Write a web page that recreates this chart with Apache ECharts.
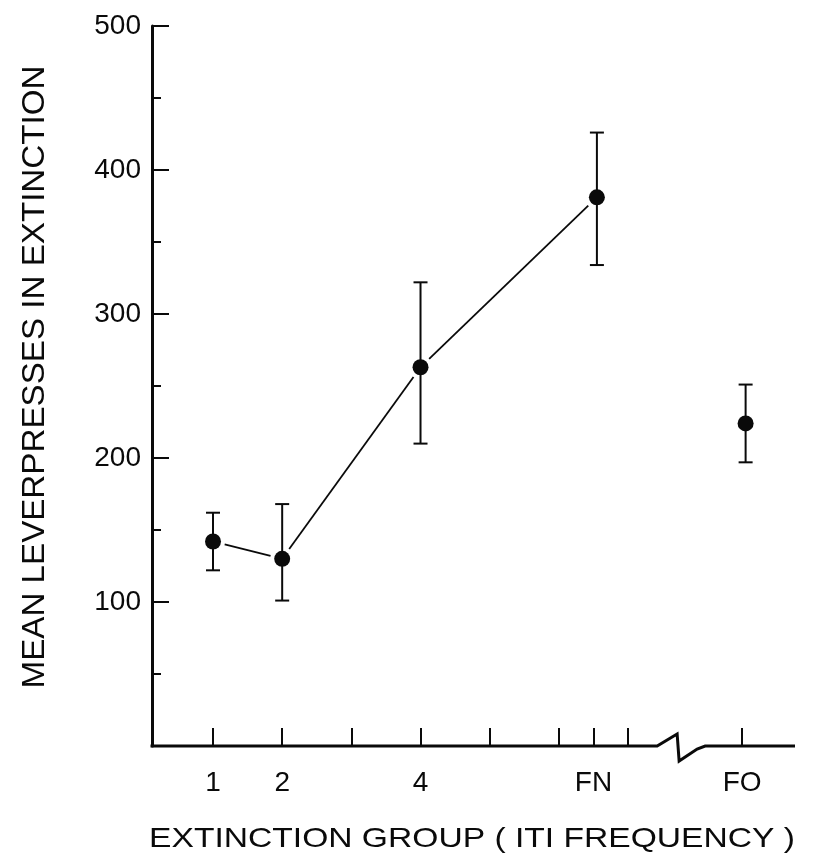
<!DOCTYPE html>
<html>
<head>
<meta charset="utf-8">
<title>Mean leverpresses in extinction</title>
<script src="https://cdn.jsdelivr.net/npm/echarts@6/dist/echarts.min.js"></script>
<style>
  html, body { margin: 0; padding: 0; background: #fff; }
  #chart { width: 830px; height: 863px; }
</style>
</head>
<body>
<div id="chart"></div>
<script>
// Extinction groups and their positions on the ITI-frequency axis
const groupNames = ['1', '2', '4', 'FN', 'FO'];
const groupX = [1, 2, 4, 6.55, 8.7];
// Mean leverpresses and error-bar limits per group
const means = [142, 130, 263, 381, 224];
const lower = [122, 101, 210, 334, 197];
const upper = [162, 168, 322, 426, 251];
// Groups joined by the connecting line (indices into the arrays above)
const connected = [0, 1, 2, 3];

// Axis ticks and labels
const xTickValues = [1, 2, 3, 4, 5, 6, 6.5, 7, 8.65];
const xLabelValues = [1, 2, 4, 6.5, 8.65];
const xLabelText = ['1', '2', '4', 'FN', 'FO'];
const xRange = [0.118, 9.414];
const xBreakAt = 7.71;
const yRange = [0, 500];
const yStep = 100;

const ink = '#0a0a0a';
const font = '"Liberation Sans", Arial, sans-serif';

const chart = echarts.init(document.getElementById('chart'), null, { renderer: 'canvas' });

const barData = groupX.map((x, i) => [x, lower[i], upper[i]]);
const pointData = groupX.map((x, i) => [x, means[i]]);
const segData = [];
for (let k = 0; k < connected.length - 1; k++) {
  const a = connected[k], b = connected[k + 1];
  segData.push([groupX[a], means[a], groupX[b], means[b]]);
}

chart.setOption({
  animation: false,
  backgroundColor: '#fff',
  grid: { left: 152, right: 35, top: 26, bottom: 117, containLabel: false },
  xAxis: {
    type: 'value',
    min: xRange[0],
    max: xRange[1],
    axisLine: { show: false },
    splitLine: { show: false },
    axisTick: {
      show: true,
      inside: true,
      length: 18,
      customValues: xTickValues,
      lineStyle: { color: ink, width: 2 }
    },
    axisLabel: {
      show: true,
      customValues: xLabelValues,
      margin: 23,
      fontSize: 28,
      fontFamily: font,
      color: ink,
      formatter: function (v) {
        const i = xLabelValues.findIndex(t => Math.abs(t - v) < 1e-6);
        return i >= 0 ? xLabelText[i] : '';
      }
    }
  },
  yAxis: {
    type: 'value',
    min: yRange[0],
    max: yRange[1],
    interval: yStep,
    axisLine: { show: true, lineStyle: { color: ink, width: 3 } },
    splitLine: { show: false },
    axisTick: { show: true, inside: true, length: 17, lineStyle: { color: ink, width: 2 } },
    minorTick: { show: true, splitNumber: 2, length: 9, lineStyle: { color: ink, width: 2 } },
    minorSplitLine: { show: false },
    axisLabel: {
      margin: 11,
      fontSize: 28,
      fontFamily: font,
      color: ink,
      formatter: v => (v === 0 ? '' : String(v))
    }
  },
  graphic: [
    {
      type: 'text',
      x: 35,
      y: 377,
      rotation: Math.PI / 2,
      scaleX: 1.07,
      style: {
        text: 'MEAN LEVERPRESSES IN EXTINCTION',
        fill: ink,
        font: '31px ' + font,
        align: 'center',
        verticalAlign: 'middle'
      }
    },
    {
      type: 'text',
      x: 472,
      y: 839,
      scaleX: 1.2,
      style: {
        text: 'EXTINCTION GROUP ( ITI FREQUENCY )',
        fill: ink,
        font: '28px ' + font,
        align: 'center',
        verticalAlign: 'middle'
      }
    }
  ],
  series: [
    {
      // horizontal axis line with a zigzag break before FO
      type: 'custom',
      silent: true,
      clip: false,
      data: [[xBreakAt]],
      renderItem: function (params, api) {
        const p0 = api.coord([xRange[0], 0]);
        const p1 = api.coord([xRange[1], 0]);
        const c = api.coord([api.value(0), 0]);
        const y = p0[1];
        const pts = [
          [p0[0] - 1.5, y],
          [c[0] - 20, y],
          [c[0], y - 12],
          [c[0] + 2, y + 15],
          [c[0] + 20, y + 3],
          [c[0] + 28, y],
          [p1[0], y]
        ];
        return {
          type: 'polyline',
          shape: { points: pts },
          style: { stroke: ink, lineWidth: 3, fill: null, lineJoin: 'miter' }
        };
      }
    },
    {
      // connecting line, stopping short of each marker
      type: 'custom',
      silent: true,
      data: segData,
      renderItem: function (params, api) {
        const a = api.coord([api.value(0), api.value(1)]);
        const b = api.coord([api.value(2), api.value(3)]);
        const dx = b[0] - a[0], dy = b[1] - a[1];
        const len = Math.sqrt(dx * dx + dy * dy);
        const gap = 12;
        const ux = dx / len, uy = dy / len;
        return {
          type: 'line',
          shape: {
            x1: a[0] + ux * gap, y1: a[1] + uy * gap,
            x2: b[0] - ux * gap, y2: b[1] - uy * gap
          },
          style: { stroke: ink, lineWidth: 1.8 }
        };
      }
    },
    {
      // error bars with caps
      type: 'custom',
      silent: true,
      data: barData,
      renderItem: function (params, api) {
        const lo = api.coord([api.value(0), api.value(1)]);
        const hi = api.coord([api.value(0), api.value(2)]);
        const w = 7;
        return {
          type: 'group',
          children: [
            { type: 'line', shape: { x1: lo[0], y1: lo[1], x2: hi[0], y2: hi[1] }, style: { stroke: ink, lineWidth: 2 } },
            { type: 'line', shape: { x1: hi[0] - w, y1: hi[1], x2: hi[0] + w, y2: hi[1] }, style: { stroke: ink, lineWidth: 2 } },
            { type: 'line', shape: { x1: lo[0] - w, y1: lo[1], x2: lo[0] + w, y2: lo[1] }, style: { stroke: ink, lineWidth: 2 } }
          ]
        };
      }
    },
    {
      type: 'scatter',
      data: pointData,
      symbol: 'circle',
      symbolSize: 16,
      itemStyle: { color: ink, opacity: 1 },
      z: 5
    }
  ]
});
</script>
</body>
</html>
